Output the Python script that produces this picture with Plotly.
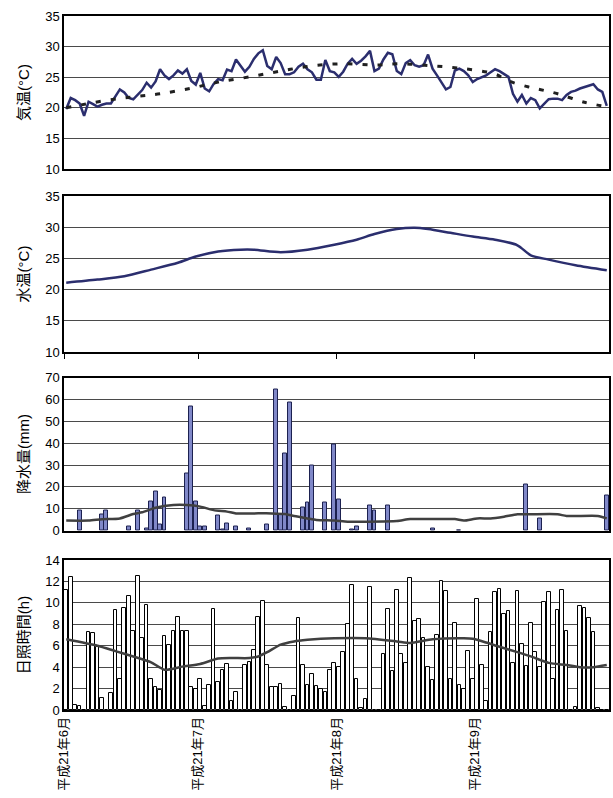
import plotly.graph_objects as go

# ---------------- data ----------------
days = list(range(122))                       # 2009-06-01 .. 2009-09-30 (day index)
month_days = [30, 31, 31, 30]
month_labels = ["平成21年6月", "平成21年7月", "平成21年8月", "平成21年9月"]

air_temp = [19.8, 21.6, 21.25, 20.7, 18.7, 21.0, 20.6, 20.2, 20.5, 20.7,
            20.7, 21.8, 23.0, 22.5, 21.6, 21.4, 22.2, 22.9, 24.1, 23.3,
            24.3, 26.3, 25.3, 24.7, 25.3, 26.1, 25.6, 26.3, 24.4, 23.8,
            25.7, 23.15, 22.7, 23.9, 24.7, 24.5, 26.25, 26.0, 27.9, 26.8,
            25.9, 26.7, 28.0, 28.9, 29.4, 26.85, 26.3, 28.3, 27.3, 25.5,
            25.5, 25.8, 26.7, 27.2, 26.3, 25.8, 24.6, 24.6, 27.8, 26.0,
            25.8, 25.05, 25.9, 27.2, 28.0, 27.2, 27.7, 28.4, 29.3, 26.0,
            26.4, 27.9, 29.0, 28.75, 26.0, 25.5, 27.3, 27.8, 26.95, 26.7,
            26.95, 28.7, 26.4, 25.3, 24.2, 23.0, 23.4, 26.1, 26.4, 26.0,
            25.3, 24.2, 24.7, 25.05, 25.3, 25.8, 26.3, 26.0, 25.5, 25.05,
            22.3, 21.0, 22.1, 20.7, 21.6, 21.25, 19.9, 20.7, 21.4, 21.5,
            21.5, 21.25, 22.1, 22.6, 22.8, 23.15, 23.4, 23.6, 23.85, 23.0,
            22.6, 20.3]

air_norm_day = [0, 8, 15, 21, 28, 34, 41, 48, 55, 62, 69, 75, 82, 89, 96, 99, 103, 106, 110, 116, 121]
air_norm = [20.0, 21.1, 21.8, 22.3, 23.2, 24.2, 25.05, 26.0, 26.85, 27.2, 27.0, 27.2, 26.85, 26.4,
            25.5, 24.4, 23.5, 23.0, 22.3, 20.9, 20.2]

water_day = [0, 7, 13, 19, 25, 29, 34, 39, 42, 48, 54, 60, 65, 69, 74, 78, 81, 86, 91, 96, 101, 104, 108, 114, 121]
water_temp = [21.1, 21.6, 22.15, 23.2, 24.3, 25.3, 26.1, 26.4, 26.4, 26.0, 26.4, 27.2, 28.0, 28.9,
              29.7, 29.9, 29.7, 29.1, 28.5, 28.0, 27.1, 25.5, 24.8, 23.9, 23.1]

rain_day = [3, 8, 9, 14, 16, 18, 19, 20, 21, 22, 27, 28, 29, 30, 31, 34, 35, 36, 38, 41, 45,
            47, 48, 49, 50, 53, 54, 55, 58, 60, 61, 64, 65, 68, 69, 72, 82, 88, 103, 106, 121]
rain_mm = [9.1, 7.5, 9.1, 1.8, 9.1, 1.1, 13.2, 17.8, 2.9, 15.1, 25.9, 56.6, 13.2, 1.8, 1.8, 6.85,
           0.6, 3.35, 1.8, 1.1, 2.9, 64.7, 7.5, 35.3, 58.4, 10.5, 12.8, 30.0, 12.8, 39.6, 14.3,
           0.6, 1.8, 11.4, 9.1, 11.4, 1.1, 0.3, 20.9, 5.6, 16.3]

rain_norm_day = [0, 5, 8, 12, 15, 17, 20, 24, 27, 30, 33, 36, 38, 42, 46, 49, 51, 54, 56, 60, 63,
                 67, 74, 77, 82, 87, 89, 92, 95, 98, 101, 104, 110, 112, 119, 121]
rain_norm = [4.6, 4.6, 5.2, 5.6, 7.6, 8.4, 10.5, 11.7, 11.7, 11.0, 9.4, 8.7, 7.9, 7.9, 7.9, 7.6,
             6.7, 5.6, 4.9, 4.6, 4.1, 4.1, 4.4, 5.3, 5.3, 5.3, 4.6, 5.6, 5.6, 6.4, 7.5, 7.5, 7.5,
             6.7, 6.7, 5.6]

sun_hours = [11.2, 12.4, 0.5, 0.4, 0.0, 7.3, 7.15, 5.9, 1.1, 0.0,
             1.6, 9.3, 2.9, 9.5, 10.6, 7.4, 12.5, 6.7, 9.8, 2.9,
             2.1, 1.9, 6.9, 6.1, 7.4, 8.7, 7.4, 7.4, 2.1, 2.0,
             2.9, 0.4, 2.3, 9.4, 2.65, 3.7, 4.3, 0.8, 1.7, 0.0,
             4.2, 4.5, 5.6, 8.7, 10.2, 4.2, 2.1, 2.1, 2.4, 0.25,
             0.0, 1.3, 8.6, 4.2, 2.3, 3.4, 2.2, 2.0, 1.7, 3.7,
             4.4, 4.05, 5.4, 8.0, 11.65, 2.9, 0.2, 1.0, 11.5, 0.0,
             0.0, 5.2, 9.4, 3.6, 11.2, 5.2, 4.4, 12.3, 8.3, 8.5,
             6.7, 4.0, 2.8, 7.0, 12.0, 11.1, 2.9, 8.1, 2.3, 2.0,
             5.5, 2.9, 10.4, 4.2, 0.8, 7.25, 11.0, 11.3, 8.95, 9.25,
             4.4, 11.15, 6.15, 4.1, 8.1, 5.45, 4.05, 10.1, 11.05, 2.9,
             9.3, 11.2, 7.4, 0.0, 0.25, 9.75, 9.5, 8.6, 7.25, 0.15,
             0.0, 0.0]

sun_norm_day = [0, 7, 11, 15, 19, 22, 26, 30, 34, 37, 41, 43, 45, 48, 51, 54, 57, 60, 67, 74,
                77, 82, 89, 91, 94, 97, 101, 104, 108, 112, 115, 118, 121]
sun_norm = [6.6, 6.0, 5.5, 5.0, 4.45, 3.75, 4.05, 4.3, 4.8, 4.85, 4.85, 5.0, 5.4, 6.1, 6.4, 6.55,
            6.65, 6.7, 6.7, 6.4, 6.25, 6.6, 6.7, 6.65, 6.3, 5.9, 5.4, 5.0, 4.4, 4.2, 4.0, 4.0, 4.2]

# ---------------- figure ----------------
NAVY = "#2b2e6e"
DARK = "#404040"
FONT = "Liberation Sans, Noto Sans CJK JP, sans-serif"

month_starts = []
acc = -0.5
for d in month_days:
    month_starts.append(acc)
    acc += d

fig = go.Figure()

fig.add_trace(go.Scatter(x=days, y=air_temp, mode="lines",
                         line=dict(color=NAVY, width=2.5), xaxis="x", yaxis="y"))
fig.add_trace(go.Scatter(x=air_norm_day, y=air_norm, mode="lines",
                         line=dict(color="#202020", width=3, dash="5px,10px", shape="spline"),
                         xaxis="x", yaxis="y"))

fig.add_trace(go.Scatter(x=water_day, y=water_temp, mode="lines",
                         line=dict(color=NAVY, width=2.5, shape="spline", smoothing=0.8),
                         xaxis="x2", yaxis="y2"))

fig.add_trace(go.Bar(x=rain_day, y=rain_mm, width=0.88,
                     marker=dict(color="#8088c8", line=dict(color="#1c2150", width=1)),
                     xaxis="x3", yaxis="y3"))
fig.add_trace(go.Scatter(x=rain_norm_day, y=rain_norm, mode="lines",
                         line=dict(color=DARK, width=2.5, shape="spline", smoothing=0.6),
                         xaxis="x3", yaxis="y3"))

fig.add_trace(go.Bar(x=days, y=sun_hours, width=0.82,
                     marker=dict(color="white", line=dict(color="black", width=1)),
                     xaxis="x4", yaxis="y4"))
fig.add_trace(go.Scatter(x=sun_norm_day, y=sun_norm, mode="lines",
                         line=dict(color=DARK, width=2.5, shape="spline", smoothing=0.6),
                         xaxis="x4", yaxis="y4"))


def xaxis(anchor, labels=False, ticks=""):
    return dict(anchor=anchor, domain=[0, 1], range=[-0.5, 121.5],
                showgrid=False, zeroline=False, showline=True, mirror=True,
                linecolor="black", linewidth=1.5,
                tickmode="array", tickvals=month_starts, ticktext=month_labels,
                showticklabels=labels, ticks=ticks, ticklen=5, tickcolor="black",
                tickangle=-90, tickfont=dict(size=13, family=FONT, color="black"))


def yaxis(anchor, domain, rng, dtick, title):
    return dict(anchor=anchor, domain=domain, range=rng, dtick=dtick,
                showgrid=True, gridcolor="#4a4a4a", gridwidth=1,
                zeroline=False, showline=True, mirror=True,
                linecolor="black", linewidth=1.5, ticks="",
                tickfont=dict(size=13, family=FONT, color="black"),
                title=dict(text=title, font=dict(size=15, family=FONT, color="black"),
                           standoff=12))


fig.update_layout(
    width=613, height=798,
    margin=dict(l=64, r=2, t=16, b=88),
    paper_bgcolor="white", plot_bgcolor="white",
    showlegend=False, bargap=0,
    font=dict(family=FONT, color="black"),
    xaxis=xaxis("y"),
    xaxis2=xaxis("y2", ticks="outside"),
    xaxis3=xaxis("y3"),
    xaxis4=xaxis("y4", labels=True),
    yaxis=yaxis("x", [0.7795, 1.0], [10, 35], 5, "気温(°C)"),
    yaxis2=yaxis("x2", [0.5159, 0.7406], [10, 35], 5, "水温(°C)"),
    yaxis3=yaxis("x3", [0.2584, 0.4791], [0, 70], 10, "降水量(mm)"),
    yaxis4=yaxis("x4", [0.0, 0.2161], [0, 14], 2, "日照時間(h)"),
)

fig.write_html("out.html", config={"displayModeBar": False},
               post_script="document.body.style.margin='0';")
